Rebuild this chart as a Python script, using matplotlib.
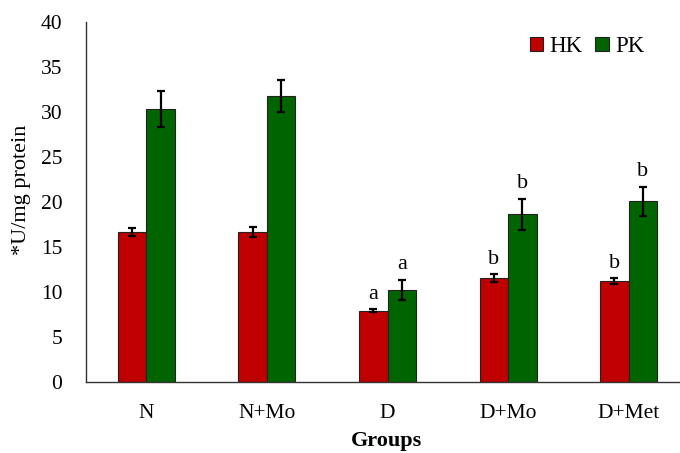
import matplotlib
matplotlib.use("Agg")
import matplotlib.pyplot as plt
import numpy as np

groups = ["N", "N+Mo", "D", "D+Mo", "D+Met"]
hk = [16.6, 16.6, 7.9, 11.5, 11.2]
hk_err = [0.45, 0.55, 0.15, 0.45, 0.3]
pk = [30.3, 31.75, 10.2, 18.6, 20.05]
pk_err = [2.0, 1.75, 1.1, 1.75, 1.6]
hk_sig = ["", "", "a", "b", "b"]
pk_sig = ["", "", "a", "b", "b"]

plt.rcParams['font.family'] = ['Liberation Serif', 'DejaVu Serif']

W, H = 680, 453
fig = plt.figure(figsize=(W / 100, H / 100), dpi=100)
left, right, top, bottom = 86, 689, 21.7, 381.7
ax = fig.add_axes([left / W, (H - bottom) / H, (right - left) / W, (bottom - top) / H])

x = np.arange(len(groups))
bw = 0.236
red = "#C00000"
green = "#006400"
ekw = dict(elinewidth=1.6, capthick=1.6, ecolor="black")
ax.bar(x - bw / 2, hk, bw, color=red, edgecolor="#222222", linewidth=0.8,
       yerr=hk_err, capsize=3, error_kw=ekw, label="HK", zorder=2)
ax.bar(x + bw / 2, pk, bw, color=green, edgecolor="#222222", linewidth=0.8,
       yerr=pk_err, capsize=3, error_kw=ekw, label="PK", zorder=2)

for i in range(len(groups)):
    if hk_sig[i]:
        ax.annotate(hk_sig[i], (x[i] - bw / 2, hk[i] + hk_err[i]), xytext=(0, 4),
                    textcoords="offset points", ha="center", va="bottom", fontsize=16)
    if pk_sig[i]:
        ax.annotate(pk_sig[i], (x[i] + bw / 2, pk[i] + pk_err[i]), xytext=(0, 4),
                    textcoords="offset points", ha="center", va="bottom", fontsize=16)

ax.set_xlim(-0.5, len(groups) - 0.5)
ax.set_ylim(0, 40)
ax.set_yticks(np.arange(0, 41, 5))
ax.set_xticks(x)
ax.set_xticklabels(groups)
ax.tick_params(axis="both", length=0, labelsize=15.5)
ax.tick_params(axis="y", pad=17)
ax.tick_params(axis="x", pad=16)
for s in ["top", "right"]:
    ax.spines[s].set_visible(False)
for s in ["left", "bottom"]:
    ax.spines[s].set_color("#333333")
    ax.spines[s].set_linewidth(1.0)

ax.set_xlabel("Groups", fontsize=16, fontweight="bold")
ax.xaxis.set_label_coords((386 - left) / (right - left), -(431 - bottom) / (bottom - top))
ax.set_ylabel("*U/mg protein", fontsize=16)
ax.yaxis.set_label_coords((31 - left) / (right - left), (bottom - 190) / (bottom - top))

ax.legend(loc="upper right", bbox_to_anchor=((654 - left) / (right - left), (bottom - 27) / (bottom - top)),
          frameon=False, fontsize=16.5, handlelength=0.58, handleheight=0.58,
          handletextpad=0.3, columnspacing=0.55, ncol=2, borderaxespad=0)

fig.savefig("out.png", dpi=100)
